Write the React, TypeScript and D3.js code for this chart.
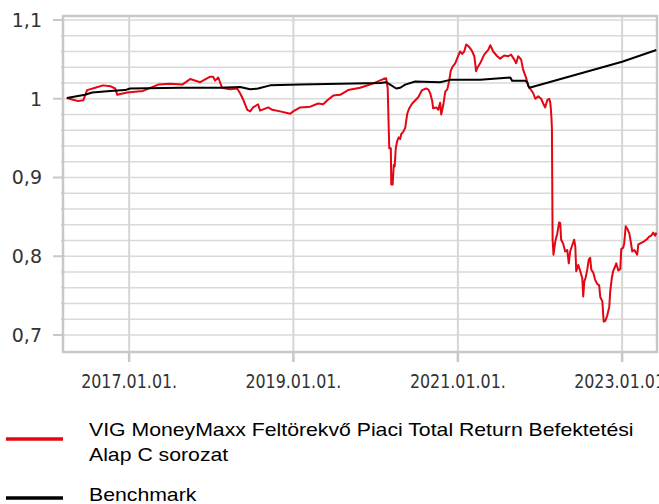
import React from 'react';
import * as d3 from 'd3';

// VIG MoneyMaxx fund (red)
const fundDates = [
  '2016-03-30', '2016-04-23', '2016-05-19', '2016-06-11', '2016-06-28', '2016-08-03', '2016-09-07', '2016-10-09',
  '2016-10-31', '2016-11-09', '2016-12-23', '2017-03-04', '2017-05-10', '2017-07-02', '2017-08-25', '2017-09-29',
  '2017-11-13', '2017-12-27', '2018-01-09', '2018-01-18', '2018-02-01', '2018-02-18', '2018-03-26', '2018-04-26',
  '2018-05-09', '2018-05-23', '2018-06-10', '2018-06-23', '2018-07-06', '2018-07-28', '2018-08-06', '2018-09-11',
  '2018-09-29', '2018-11-03', '2018-12-18', '2018-12-31', '2019-01-31', '2019-03-17', '2019-04-21', '2019-05-13',
  '2019-06-05', '2019-06-27', '2019-07-28', '2019-09-01', '2019-10-25', '2019-12-17', '2020-02-04', '2020-02-17',
  '2020-02-24', '2020-03-02', '2020-03-09', '2020-03-11', '2020-03-17', '2020-03-22', '2020-03-26', '2020-03-31',
  '2020-04-06', '2020-04-13', '2020-04-20', '2020-04-24', '2020-05-03', '2020-05-12', '2020-05-21', '2020-05-30',
  '2020-06-12', '2020-07-09', '2020-07-26', '2020-08-13', '2020-08-22', '2020-08-31', '2020-09-09', '2020-09-13',
  '2020-09-27', '2020-10-06', '2020-10-14', '2020-10-19', '2020-10-28', '2020-11-06', '2020-11-15', '2020-11-23',
  '2020-11-30', '2020-12-07', '2020-12-20', '2021-01-02', '2021-01-11', '2021-01-20', '2021-01-29', '2021-02-07',
  '2021-02-16', '2021-02-25', '2021-03-06', '2021-03-15', '2021-03-19', '2021-03-23', '2021-03-28', '2021-04-10',
  '2021-04-28', '2021-05-16', '2021-05-25', '2021-06-07', '2021-06-25', '2021-07-08', '2021-07-26', '2021-08-13',
  '2021-08-26', '2021-09-08', '2021-09-17', '2021-09-26', '2021-10-09', '2021-10-18', '2021-11-01', '2021-11-10',
  '2021-11-18', '2021-12-02', '2021-12-11', '2021-12-24', '2022-01-06', '2022-01-15', '2022-01-24', '2022-02-02',
  '2022-02-11', '2022-02-15', '2022-02-18', '2022-02-21', '2022-02-23', '2022-02-26', '2022-03-02', '2022-03-10',
  '2022-03-19', '2022-03-27', '2022-04-01', '2022-04-05', '2022-04-14', '2022-04-23', '2022-05-02', '2022-05-09',
  '2022-05-15', '2022-05-24', '2022-06-02', '2022-06-07', '2022-06-11', '2022-06-20', '2022-06-29', '2022-07-08',
  '2022-07-12', '2022-07-17', '2022-07-23', '2022-07-30', '2022-08-06', '2022-08-12', '2022-08-17', '2022-08-26',
  '2022-09-03', '2022-09-12', '2022-09-21', '2022-09-26', '2022-10-05', '2022-10-11', '2022-10-18', '2022-10-27',
  '2022-11-05', '2022-11-09', '2022-11-16', '2022-11-22', '2022-12-01', '2022-12-06', '2022-12-15', '2022-12-24',
  '2022-12-28', '2023-01-06', '2023-01-10', '2023-01-17', '2023-01-24', '2023-02-02', '2023-02-08', '2023-02-15',
  '2023-02-24', '2023-03-05', '2023-03-09', '2023-03-14', '2023-03-27', '2023-04-09', '2023-04-23', '2023-05-01',
  '2023-05-10', '2023-05-19', '2023-05-28', '2023-06-02',
];
const fundValues = [
  1.001, 0.999, 0.997, 0.998, 1.011, 1.014, 1.017, 1.016,
  1.013, 1.005, 1.008, 1.010, 1.018, 1.019, 1.018, 1.025,
  1.021, 1.028, 1.028, 1.023, 1.027, 1.014, 1.012, 1.013,
  1.007, 0.999, 0.986, 0.984, 0.989, 0.993, 0.985, 0.989,
  0.986, 0.984, 0.981, 0.984, 0.989, 0.990, 0.994, 0.993,
  0.999, 1.004, 1.005, 1.011, 1.014, 1.019, 1.025, 1.026,
  1.014, 0.937, 0.937, 0.891, 0.891, 0.916, 0.914, 0.937,
  0.946, 0.951, 0.949, 0.955, 0.958, 0.963, 0.981, 0.988,
  0.994, 1.002, 1.011, 1.013, 1.012, 1.007, 0.997, 0.988,
  0.989, 0.986, 0.995, 0.980, 0.992, 1.009, 1.012, 1.022,
  1.035, 1.040, 1.045, 1.054, 1.060, 1.057, 1.060, 1.069,
  1.067, 1.064, 1.060, 1.054, 1.045, 1.035, 1.039, 1.045,
  1.056, 1.062, 1.068, 1.060, 1.054, 1.051, 1.055, 1.054,
  1.056, 1.050, 1.045, 1.054, 1.050, 1.037, 1.026, 1.016,
  1.013, 1.007, 1.000, 1.003, 1.000, 0.994, 0.989, 0.998,
  1.000, 0.996, 0.988, 0.975, 0.962, 0.821, 0.802, 0.819,
  0.829, 0.843, 0.842, 0.821, 0.816, 0.806, 0.808, 0.791,
  0.806, 0.814, 0.821, 0.812, 0.781, 0.789, 0.781, 0.772,
  0.749, 0.768, 0.773, 0.783, 0.796, 0.798, 0.783, 0.779,
  0.770, 0.765, 0.763, 0.748, 0.743, 0.717, 0.718, 0.725,
  0.736, 0.755, 0.772, 0.781, 0.787, 0.791, 0.782, 0.784,
  0.809, 0.811, 0.816, 0.838, 0.835, 0.829, 0.819, 0.806,
  0.808, 0.804, 0.802, 0.815, 0.817, 0.819, 0.822, 0.825,
  0.826, 0.830, 0.826, 0.830,
];

// Benchmark (black)
const benchDates = [
  '2016-03-30', '2016-06-19', '2016-07-21', '2016-10-09', '2016-12-14', '2017-01-05', '2017-08-16', '2018-02-09',
  '2018-05-09', '2018-06-23', '2018-07-28', '2018-09-20', '2019-01-31', '2019-07-28', '2020-01-22', '2020-02-17',
  '2020-03-06', '2020-04-02', '2020-04-20', '2020-05-12', '2020-06-25', '2020-10-14', '2020-11-28', '2021-04-10',
  '2021-07-08', '2021-08-22', '2021-08-30', '2021-10-27', '2021-11-05', '2021-11-14', '2021-11-27', '2023-01-01',
  '2023-06-02',
];
const benchValues = [
  1.001, 1.005, 1.008, 1.010, 1.011, 1.013, 1.014, 1.014,
  1.015, 1.012, 1.013, 1.017, 1.018, 1.019, 1.020, 1.021,
  1.018, 1.013, 1.014, 1.018, 1.022, 1.021, 1.024, 1.024,
  1.026, 1.027, 1.023, 1.023, 1.021, 1.014, 1.015, 1.047,
  1.062,
];

const yTicks = [0.7, 0.8, 0.9, 1.0, 1.1];
const yTickLabels = ['0,7', '0,8', '0,9', '1', '1,1'];
const xTickDates = ['2017-01-01', '2019-01-01', '2021-01-01', '2023-01-01'];
const xTickLabels = ['2017.01.01.', '2019.01.01.', '2021.01.01.', '2023.01.01.'];

const legendItems = [
  { lines: ['VIG MoneyMaxx Feltörekvő Piaci Total Return Befektetési', 'Alap C sorozat'], color: '#e30613' },
  { lines: ['Benchmark'], color: '#000000' },
];

const W = 659;
const H = 504;
const plot = { left: 63, right: 657, top: 16, bottom: 352 };

const parse = d3.timeParse('%Y-%m-%d');

export default function App() {
  const x = d3.scaleTime()
    .domain([parse('2016-03-13')!, parse('2023-06-05')!])
    .range([plot.left, plot.right]);
  const y = d3.scaleLinear()
    .domain([0.6784, 1.1051])
    .range([plot.bottom, plot.top]);

  const fund = fundDates.map((d, i) => ({ date: parse(d)!, value: fundValues[i] }));
  const bench = benchDates.map((d, i) => ({ date: parse(d)!, value: benchValues[i] }));

  const line = d3.line<{ date: Date; value: number }>()
    .x(d => x(d.date))
    .y(d => y(d.value));

  const minor = d3.range(0.7, 1.1001, 0.02);

  return (
    <div style={{ position: 'fixed', left: 0, top: 0 }}>
      <svg width={W} height={H} style={{ display: 'block', background: '#fff' }}>
        {/* horizontal grid */}
        {minor.map((v, i) => (
          <line key={'h' + i} x1={plot.left} x2={plot.right} y1={y(v)} y2={y(v)}
            stroke="#d9d9d9" strokeWidth={1.4} />
        ))}
        {/* vertical grid */}
        {xTickDates.map(d => (
          <line key={'v' + d} x1={x(parse(d)!)} x2={x(parse(d)!)} y1={plot.top} y2={plot.bottom}
            stroke="#d6d6d6" strokeWidth={2} />
        ))}
        {/* frame */}
        <rect x={plot.left} y={plot.top} width={plot.right - plot.left} height={plot.bottom - plot.top}
          fill="none" stroke="#c8c8c8" strokeWidth={2.5} />
        {/* y ticks */}
        {minor.map((v, i) => (
          <line key={'mt' + i} x1={plot.left - 2} x2={plot.left} y1={y(v)} y2={y(v)} stroke="#c8c8c8" strokeWidth={1.5} />
        ))}
        {yTicks.map((v, i) => (
          <g key={'yt' + i}>
            <line x1={plot.left - 10} x2={plot.left} y1={y(v)} y2={y(v)} stroke="#c8c8c8" strokeWidth={2} />
            <text x={42} y={y(v)} dy="0.36em" textAnchor="end" fontFamily="DejaVu Sans" fontSize={19} fill="#333">
              {yTickLabels[i]}
            </text>
          </g>
        ))}
        {/* x ticks */}
        {xTickDates.map((d, i) => (
          <g key={'xt' + d}>
            <line x1={x(parse(d)!)} x2={x(parse(d)!)} y1={plot.bottom} y2={plot.bottom + 10} stroke="#c8c8c8" strokeWidth={2.5} />
            <text x={x(parse(d)!)} y={388} textAnchor="middle" fontFamily="DejaVu Sans" fontSize={19} fill="#333"
              textLength={96} lengthAdjust="spacingAndGlyphs">
              {xTickLabels[i]}
            </text>
          </g>
        ))}
        {/* series */}
        <path d={line(fund) ?? ''} fill="none" stroke="#e30613" strokeWidth={2} strokeLinejoin="round" />
        <path d={line(bench) ?? ''} fill="none" stroke="#000" strokeWidth={2} strokeLinejoin="round" />
        {/* legend */}
        {legendItems.map((item, i) => {
          const base = i === 0 ? 436 : 501;
          const ly = i === 0 ? 439 : 498;
          return (
            <g key={'lg' + i}>
              <line x1={6} x2={63} y1={ly} y2={ly} stroke={item.color} strokeWidth={3.5} />
              <g transform="translate(89,0) scale(1.18,1)">
                {item.lines.map((t, j) => (
                  <text key={j} x={0} y={base + j * 25} fontFamily="Liberation Sans, Arial" fontSize={18} fill="#000">
                    {t}
                  </text>
                ))}
              </g>
            </g>
          );
        })}
      </svg>
    </div>
  );
}
